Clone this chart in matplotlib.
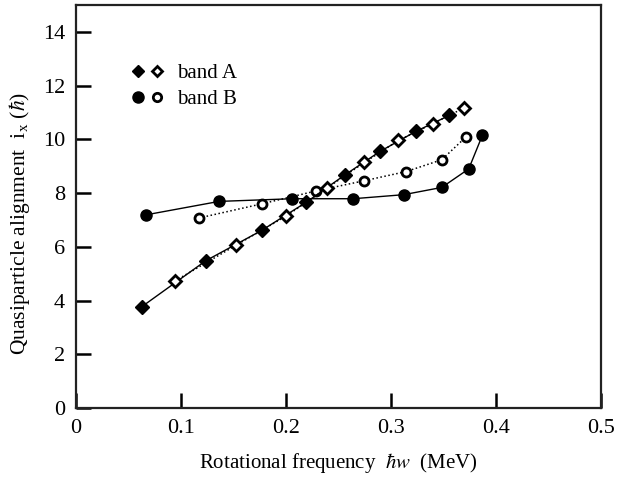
import matplotlib
matplotlib.use("Agg")
import matplotlib.pyplot as plt
from matplotlib.lines import Line2D
from matplotlib.legend_handler import HandlerTuple

plt.rcParams["font.family"] = ["Liberation Serif", "DejaVu Serif"]
plt.rcParams["mathtext.fontset"] = "stix"

# band A (diamonds)
a_filled_x = [0.0626, 0.1235, 0.1768, 0.2193, 0.2562, 0.2895, 0.3238, 0.3555]
a_filled_y = [3.77, 5.48, 6.61, 7.66, 8.68, 9.55, 10.30, 10.89]
a_open_x = [0.0943, 0.152, 0.2003, 0.2387, 0.2746, 0.307, 0.3397, 0.3695]
a_open_y = [4.73, 6.05, 7.15, 8.18, 9.14, 9.96, 10.58, 11.17]

# band B (circles)
b_filled_x = [0.0667, 0.1362, 0.206, 0.264, 0.312, 0.3483, 0.374, 0.387]
b_filled_y = [7.19, 7.69, 7.79, 7.79, 7.94, 8.21, 8.90, 10.15]
b_open_x = [0.1168, 0.177, 0.2286, 0.2746, 0.3143, 0.3483, 0.3711]
b_open_y = [7.07, 7.60, 8.08, 8.46, 8.80, 9.24, 10.08]

fig = plt.figure(figsize=(6.32, 4.82), dpi=100)
ax = fig.add_axes([0.1203, 0.1535, 0.8307, 0.8361])

ax.plot(b_filled_x, b_filled_y, "-", color="black", lw=1.0,
        marker="o", ms=8, mfc="black", mec="black", zorder=3)
ax.plot(b_open_x, b_open_y, ":", color="black", lw=1.1,
        marker="o", ms=6.5, mfc="white", mec="black", mew=2.0, zorder=3)
ax.plot(a_filled_x, a_filled_y, "-", color="black", lw=1.0,
        marker="D", ms=7, mfc="black", mec="black", zorder=4)
ax.plot(a_open_x, a_open_y, ":", color="black", lw=1.1,
        marker="D", ms=6, mfc="white", mec="black", mew=2.0, zorder=4)

ax.set_xlim(0, 0.5)
ax.set_ylim(0, 15)
ax.set_xticks([0, 0.1, 0.2, 0.3, 0.4, 0.5])
ax.set_xticklabels(["0", "0.1", "0.2", "0.3", "0.4", "0.5"])
ax.set_yticks([0, 2, 4, 6, 8, 10, 12, 14])
ax.tick_params(direction="in", length=11, width=1.8, labelsize=16, pad=8,
               top=False, right=False)

for s in ax.spines.values():
    s.set_linewidth(1.6)
    s.set_color("#222222")

ax.set_xlabel(r"Rotational frequency  $\hbar w$  (MeV)", fontsize=15, labelpad=9)
ax.set_ylabel(r"Quasiparticle alignment  i$_{\mathregular{x}}$ ($\hbar$)",
              fontsize=15.5)
ax.yaxis.set_label_coords(-0.083, 0.458)

hA = (Line2D([], [], ls="none", marker="D", ms=6.5, mfc="black", mec="black"),
      Line2D([], [], ls="none", marker="D", ms=5.5, mfc="white", mec="black", mew=2.0))
hB = (Line2D([], [], ls="none", marker="o", ms=8, mfc="black", mec="black"),
      Line2D([], [], ls="none", marker="o", ms=6, mfc="white", mec="black", mew=2.0))
ax.legend([hA, hB], ["band A", "band B"], loc="upper left",
          bbox_to_anchor=(0.09, 0.875), frameon=False, fontsize=15,
          handler_map={tuple: HandlerTuple(ndivide=None, pad=0.3)},
          handlelength=1.5, handletextpad=0.7, labelspacing=0.3,
          borderaxespad=0)

fig.savefig("out.png", dpi=100)
